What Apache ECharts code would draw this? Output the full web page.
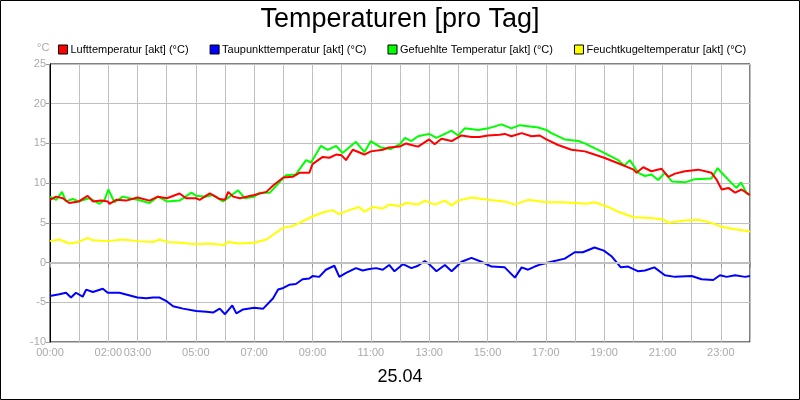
<!DOCTYPE html>
<html>
<head>
<meta charset="utf-8">
<script src="https://cdn.jsdelivr.net/npm/echarts@6/dist/echarts.min.js"></script>
<style>
html,body{margin:0;padding:0;background:#fff;}
#c{width:800px;height:400px;}
</style>
</head>
<body>
<div id="c"></div>
<script>
// Legend / series names
const seriesNames = ['Lufttemperatur [akt] (°C)', 'Taupunkttemperatur [akt] (°C)', 'Gefuehlte Temperatur [akt] (°C)', 'Feuchtkugeltemperatur [akt] (°C)'];
// Hours of day that get a tick label
const labelHours = [0, 2, 3, 5, 7, 9, 11, 13, 15, 17, 19, 21, 23];
const yTicks = [-10, -5, 0, 5, 10, 15, 20, 25];

// [hour, value] readings
const luftTemp = [[0,7.9],[0.21,8.3],[0.44,8.1],[0.66,7.5],[0.99,7.7],[1.29,8.4],[1.47,7.7],[1.75,7.8],[1.98,7.7],[2.04,7.4],[2.27,7.9],[2.61,7.8],[3.0,8.2],[3.41,7.8],[3.7,8.3],[4.01,8.1],[4.44,8.7],[4.67,8.1],[5.01,8.1],[5.13,7.9],[5.48,8.7],[5.82,8.0],[6.0,7.9],[6.11,8.9],[6.28,8.3],[6.51,8.1],[7.0,8.5],[7.42,8.9],[7.65,9.7],[8.0,10.7],[8.32,10.8],[8.55,11.3],[8.89,11.3],[9.0,12.4],[9.35,13.3],[9.58,13.2],[9.81,13.6],[10.0,13.5],[10.15,12.9],[10.38,14.2],[10.78,13.6],[11.0,14.0],[11.41,14.2],[11.63,14.5],[11.99,14.6],[12.21,15.0],[12.39,14.8],[12.62,14.6],[13.0,15.5],[13.19,14.9],[13.42,15.6],[13.77,15.3],[14.11,16.0],[14.45,15.8],[14.72,15.8],[15.02,16.0],[15.41,16.1],[15.59,16.2],[15.82,15.9],[16.17,16.3],[16.51,15.9],[16.79,16.0],[17.02,15.5],[17.42,14.8],[17.88,14.2],[18.34,14.0],[18.51,13.8],[19.0,13.2],[19.48,12.5],[20.01,11.7],[20.11,11.3],[20.34,12.0],[20.62,11.5],[20.97,11.8],[21.2,10.8],[21.43,11.2],[21.77,11.5],[22.23,11.7],[22.68,11.3],[22.86,10.4],[23.03,9.2],[23.26,9.4],[23.49,8.8],[23.71,9.2],[24.0,8.5]];
const taupunkt = [[0,-4.2],[0.32,-4.0],[0.55,-3.8],[0.72,-4.4],[0.89,-3.8],[1.12,-4.3],[1.24,-3.4],[1.47,-3.7],[1.81,-3.3],[1.98,-3.8],[2.38,-3.8],[3.0,-4.4],[3.3,-4.5],[3.53,-4.4],[3.76,-4.4],[4.01,-4.9],[4.22,-5.5],[4.56,-5.8],[5.01,-6.1],[5.36,-6.2],[5.59,-6.3],[5.82,-5.8],[6.0,-6.5],[6.25,-5.4],[6.39,-6.4],[6.62,-5.9],[7.0,-5.7],[7.31,-5.8],[7.65,-4.5],[7.82,-3.4],[8.0,-3.2],[8.2,-2.8],[8.43,-2.7],[8.66,-2.1],[8.89,-2.0],[9.0,-1.7],[9.23,-1.8],[9.46,-0.9],[9.75,-0.4],[9.92,-1.8],[10.15,-1.3],[10.49,-0.7],[10.72,-1.0],[10.95,-0.8],[11.18,-0.7],[11.41,-0.9],[11.63,-0.3],[11.81,-1.1],[12.1,-0.2],[12.39,-0.7],[12.62,-0.4],[12.85,0.2],[13.0,-0.2],[13.25,-1.1],[13.54,-0.3],[13.77,-1.1],[14.11,0.1],[14.45,0.6],[14.79,0.1],[15.14,-0.5],[15.59,-0.6],[15.94,-1.9],[16.17,-0.6],[16.39,-0.9],[16.62,-0.5],[16.85,-0.2],[17.19,0.1],[17.65,0.5],[17.99,1.3],[18.27,1.3],[18.67,1.9],[18.99,1.5],[19.25,0.8],[19.57,-0.6],[19.82,-0.5],[20.17,-1.1],[20.4,-1.0],[20.72,-0.6],[21.08,-1.6],[21.43,-1.8],[22.0,-1.7],[22.34,-2.1],[22.74,-2.2],[22.97,-1.6],[23.2,-1.8],[23.49,-1.6],[23.83,-1.8],[24.0,-1.7]];
const gefuehlt = [[0,8.3],[0.21,7.9],[0.41,8.9],[0.55,7.7],[0.78,8.0],[0.99,7.7],[1.35,8.1],[1.7,7.4],[1.87,7.9],[2.0,9.2],[2.21,7.6],[2.5,8.3],[2.73,8.1],[3.0,7.9],[3.41,7.5],[3.7,8.3],[4.01,7.7],[4.44,7.8],[4.85,8.8],[5.01,8.4],[5.36,8.3],[5.59,8.5],[5.93,7.7],[6.16,8.3],[6.45,9.1],[6.68,8.1],[7.0,8.3],[7.19,8.8],[7.54,8.8],[7.82,9.9],[8.09,11.0],[8.43,11.1],[8.78,12.9],[8.95,12.6],[9.29,14.7],[9.52,14.2],[9.81,14.7],[10.03,13.8],[10.49,15.2],[10.78,13.9],[11.0,15.3],[11.34,14.5],[11.68,14.3],[12.0,14.9],[12.17,15.7],[12.39,15.3],[12.62,15.9],[13.0,16.2],[13.25,15.7],[13.77,16.6],[13.99,16.0],[14.22,16.9],[14.68,16.7],[15.02,16.9],[15.48,17.4],[15.82,16.9],[16.11,17.3],[16.74,17.0],[17.02,16.7],[17.19,16.3],[17.65,15.5],[18.11,15.3],[18.34,15.0],[18.51,14.7],[19.0,13.8],[19.48,12.9],[19.69,12.2],[19.88,12.9],[20.17,11.3],[20.4,10.9],[20.62,11.1],[20.85,10.4],[21.08,11.3],[21.33,10.2],[21.77,10.1],[22.11,10.5],[22.68,10.6],[22.89,11.9],[23.03,11.3],[23.37,10.0],[23.54,9.4],[23.69,10.1],[23.89,8.7],[24.0,8.5]];
const feuchtkugel = [[0,2.7],[0.32,2.9],[0.66,2.4],[0.99,2.6],[1.29,3.1],[1.47,2.8],[1.98,2.7],[2.5,2.9],[3.0,2.7],[3.53,2.6],[3.76,2.9],[4.01,2.6],[4.44,2.5],[5.01,2.3],[5.48,2.4],[5.93,2.2],[6.11,2.6],[6.5,2.4],[7.0,2.5],[7.42,2.9],[7.65,3.5],[8.0,4.4],[8.32,4.6],[8.55,5.0],[9.0,5.8],[9.35,6.3],[9.69,6.6],[9.9,6.1],[10.26,6.6],[10.6,7.0],[10.78,6.4],[11.07,7.0],[11.41,6.8],[11.63,7.3],[11.99,7.1],[12.21,7.5],[12.62,7.3],[12.85,7.8],[13.19,7.3],[13.54,7.8],[13.77,7.2],[13.99,7.8],[14.45,8.2],[15.02,7.9],[15.59,7.7],[15.94,7.3],[16.39,7.9],[17.02,7.6],[17.5,7.6],[18.0,7.5],[18.4,7.4],[18.68,7.6],[19.14,7.0],[19.48,6.4],[20.01,5.7],[20.62,5.6],[21.04,5.4],[21.2,5.0],[21.77,5.3],[22.23,5.4],[22.68,5.0],[23.03,4.5],[23.49,4.2],[24.0,3.9]];

const seriesData = [luftTemp, taupunkt, gefuehlt, feuchtkugel];
const colors = ['#ff0000', '#0000ff', '#00ff00', '#ffff00'];
const zs = [4, 3, 2, 3];

const FONT = '"Liberation Sans", Arial, sans-serif';
const chart = echarts.init(document.getElementById('c'), null, {renderer: 'canvas'});

const pad = h => (h < 10 ? '0' : '') + h + ':00';

chart.setOption({
  animation: false,
  backgroundColor: '#ffffff',
  textStyle: {fontFamily: FONT},
  title: {
    text: 'Temperaturen [pro Tag]',
    left: 'center', top: 1,
    textStyle: {fontSize: 27, fontWeight: 'normal', color: '#000', fontFamily: FONT}
  },
  legend: {
    data: seriesNames,
    left: 53, top: 39,
    icon: 'rect', itemWidth: 9, itemHeight: 9, itemGap: 21,
    itemStyle: {borderColor: '#000', borderWidth: 1},
    textStyle: {fontSize: 11, color: '#000', fontFamily: FONT, padding: [0, 0, 0, -2]}
  },
  grid: {left: 50, right: 50, top: 64, bottom: 58, show: true, borderColor: '#000', borderWidth: 1, backgroundColor: 'transparent'},
  xAxis: {
    type: 'value', min: 0, max: 24, interval: 1,
    axisLine: {show: true, lineStyle: {color: '#000', width: 1}},
    axisTick: {show: true, length: 5, lineStyle: {color: '#999'}},
    axisLabel: {
      color: '#aaaaaa', fontSize: 11, margin: 5, fontFamily: FONT,
      formatter: v => labelHours.includes(v) ? pad(v) : ''
    },
    splitLine: {show: true, lineStyle: {color: '#c0c0c0', width: 1}}
  },
  yAxis: {
    type: 'value', min: yTicks[0], max: yTicks[yTicks.length - 1], interval: 5,
    axisLine: {show: true, lineStyle: {color: '#000', width: 1}},
    axisTick: {show: true, length: 4, lineStyle: {color: '#999'}},
    axisLabel: {color: '#aaaaaa', fontSize: 11, margin: 4, fontFamily: FONT},
    splitLine: {show: true, lineStyle: {color: '#c0c0c0', width: 1}}
  },
  graphic: [
    {type: 'rect', shape: {x: 0.5, y: 0.5, width: 799, height: 399}, style: {fill: 'none', stroke: '#000', lineWidth: 1}, silent: true},
    {type: 'text', left: 37, top: 42, style: {text: '°C', fill: '#aaaaaa', font: '11px ' + FONT}, silent: true},
    {type: 'text', left: 'center', top: 368, style: {text: '25.04', fill: '#000', font: '18px ' + FONT}, silent: true}
  ],
  series: seriesNames.map((name, i) => {
    const s = {
      name: name, type: 'line', data: seriesData[i],
      showSymbol: false, symbol: 'none', z: zs[i],
      lineStyle: {color: colors[i], width: 2},
      itemStyle: {color: colors[i]},
      silent: true
    };
    if (i === 2) {
      s.markLine = {silent: true, symbol: 'none', label: {show: false},
        lineStyle: {color: '#c0c0c0', width: 2, type: 'solid'},
        data: [{yAxis: 0}]};
    }
    return s;
  })
});
</script>
</body>
</html>
